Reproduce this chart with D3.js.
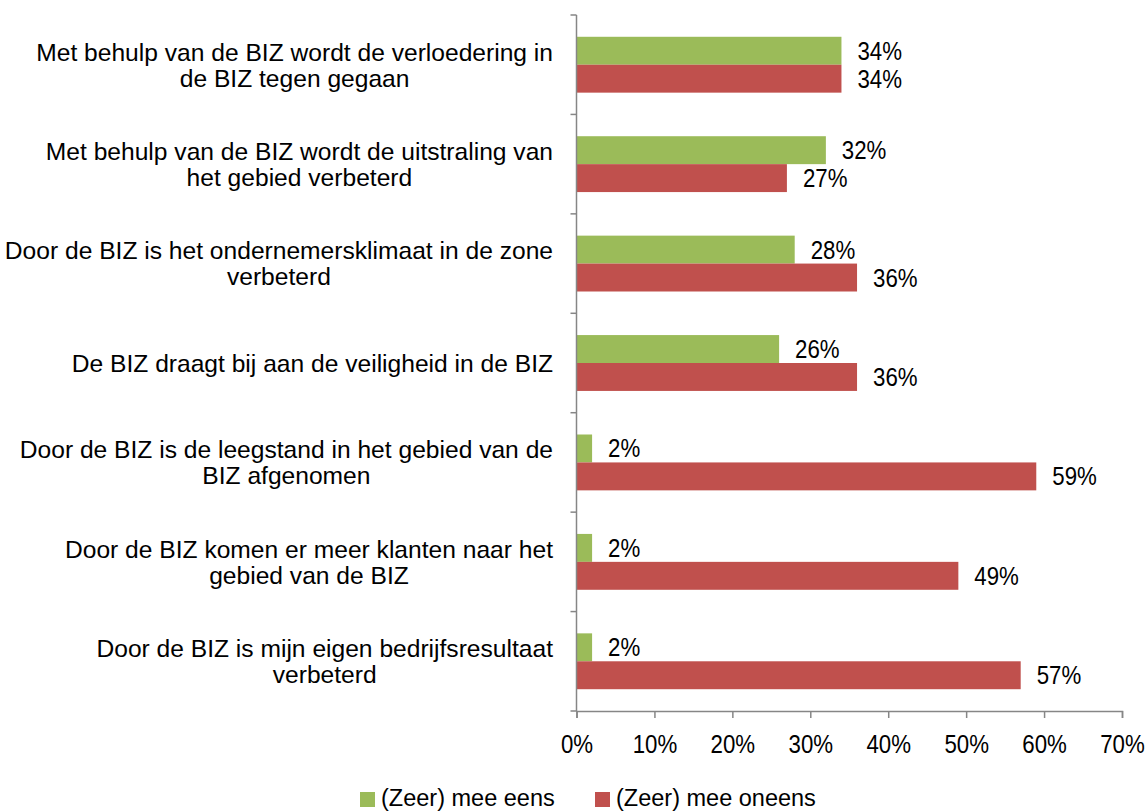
<!DOCTYPE html>
<html>
<head>
<meta charset="utf-8">
<script src="https://cdn.jsdelivr.net/npm/d3@7"></script>
<style>
  body { margin: 0; background: #fff; }
  svg text { font-family: 'Liberation Sans', Arial, sans-serif; fill: #000; }
</style>
</head>
<body>
<div class="holder"></div>
<script>
const categories = [
  ['Met behulp van de BIZ wordt de verloedering in', 'de BIZ tegen gegaan'],
  ['Met behulp van de BIZ wordt de uitstraling van', 'het gebied verbeterd'],
  ['Door de BIZ is het ondernemersklimaat in de zone', 'verbeterd'],
  ['De BIZ draagt bij aan de veiligheid in de BIZ'],
  ['Door de BIZ is de leegstand in het gebied van de', 'BIZ afgenomen'],
  ['Door de BIZ komen er meer klanten naar het', 'gebied van de BIZ'],
  ['Door de BIZ is mijn eigen bedrijfsresultaat', 'verbeterd']
];
const eens = [34, 32, 28, 26, 2, 2, 2];
const oneens = [34, 27, 36, 36, 59, 49, 57];
const seriesNames = ['(Zeer) mee eens', '(Zeer) mee oneens'];
const colors = ['#9bbb59', '#c0504d'];
const xTicks = [0, 10, 20, 30, 40, 50, 60, 70];

const labelSize = 24.6;
const numSize = 25;
const numSqueeze = 0.89;
const plotLeft = 576.5;
const plotRight = 1122;
const plotTop = 15;
const plotBottom = 711;

const svg = d3
  .select('.holder')
  .append('svg')
  .attr('width', 1146)
  .attr('height', 812);

const xScale = d3.scaleLinear().domain([0, 70]).range([plotLeft, plotRight]);

const yScale = d3
  .scaleBand()
  .domain(d3.range(categories.length))
  .range([plotTop, plotBottom]);

const inner = d3
  .scaleBand()
  .domain([0, 1])
  .range([0, yScale.bandwidth()])
  .paddingOuter(0.78)
  .paddingInner(0);

// bars + value labels
const series = [eens, oneens];
series.forEach((vals, s) => {
  svg
    .append('g')
    .selectAll('rect')
    .data(vals)
    .enter()
    .append('rect')
    .attr('x', xScale(0))
    .attr('y', (d, i) => yScale(i) + inner(s))
    .attr('width', d => xScale(d) - xScale(0))
    .attr('height', inner.bandwidth())
    .style('fill', colors[s]);

  svg
    .append('g')
    .selectAll('text')
    .data(vals)
    .enter()
    .append('text')
    .attr('transform', (d, i) => {
      const x = xScale(d) + 16;
      const y = yScale(i) + inner(s) + inner.bandwidth() / 2;
      return `translate(${x},${y}) scale(${numSqueeze},1)`;
    })
    .attr('dy', '0.36em')
    .style('font-size', numSize + 'px')
    .text(d => d + '%');
});

// y axis
const yAxis = svg.append('g').attr('stroke', '#868686').attr('stroke-width', 1.5);
yAxis
  .append('line')
  .attr('x1', plotLeft)
  .attr('x2', plotLeft)
  .attr('y1', plotTop)
  .attr('y2', plotBottom);
yAxis
  .selectAll('.tk')
  .data(d3.range(categories.length + 1))
  .enter()
  .append('line')
  .attr('x1', plotLeft - 6)
  .attr('x2', plotLeft)
  .attr('y1', i => i < categories.length ? yScale(i) : plotBottom)
  .attr('y2', i => i < categories.length ? yScale(i) : plotBottom);

// x axis
const xAxis = d3
  .axisBottom(xScale)
  .tickValues(xTicks)
  .tickSize(7)
  .tickPadding(17)
  .tickFormat(d => d + '%');

const gx = svg
  .append('g')
  .attr('transform', `translate(0, ${plotBottom})`)
  .call(xAxis);
gx.select('.domain').attr('stroke', '#868686').attr('stroke-width', 1.5);
gx.selectAll('.tick line').attr('stroke', '#868686').attr('stroke-width', 1.5);
gx.selectAll('.tick text')
  .style('font-size', numSize + 'px')
  .style('font-family', "'Liberation Sans', Arial, sans-serif")
  .attr('fill', '#000')
  .attr('transform', `scale(${numSqueeze},1)`);

// category labels
const lineH = 26;
categories.forEach((lines, i) => {
  const g = svg.append('g');
  const cy = yScale(i) + yScale.bandwidth() / 2;
  const texts = lines.map((ln, j) =>
    g
      .append('text')
      .attr('y', cy + (j - (lines.length - 1) / 2) * lineH)
      .attr('dy', '0.36em')
      .attr('text-anchor', 'middle')
      .style('font-size', labelSize + 'px')
      .text(ln)
  );
  const maxW = d3.max(texts, t => t.node().getComputedTextLength());
  texts.forEach(t => t.attr('x', 553 - maxW / 2));
});

// legend
const legendX = [360, 595];
seriesNames.forEach((name, s) => {
  svg
    .append('rect')
    .attr('x', legendX[s])
    .attr('y', 792)
    .attr('width', 15)
    .attr('height', 15)
    .style('fill', colors[s]);
  svg
    .append('text')
    .attr('x', legendX[s] + 21)
    .attr('y', 806)
    .style('font-size', '23.5px')
    .text(name);
});
</script>
</body>
</html>
